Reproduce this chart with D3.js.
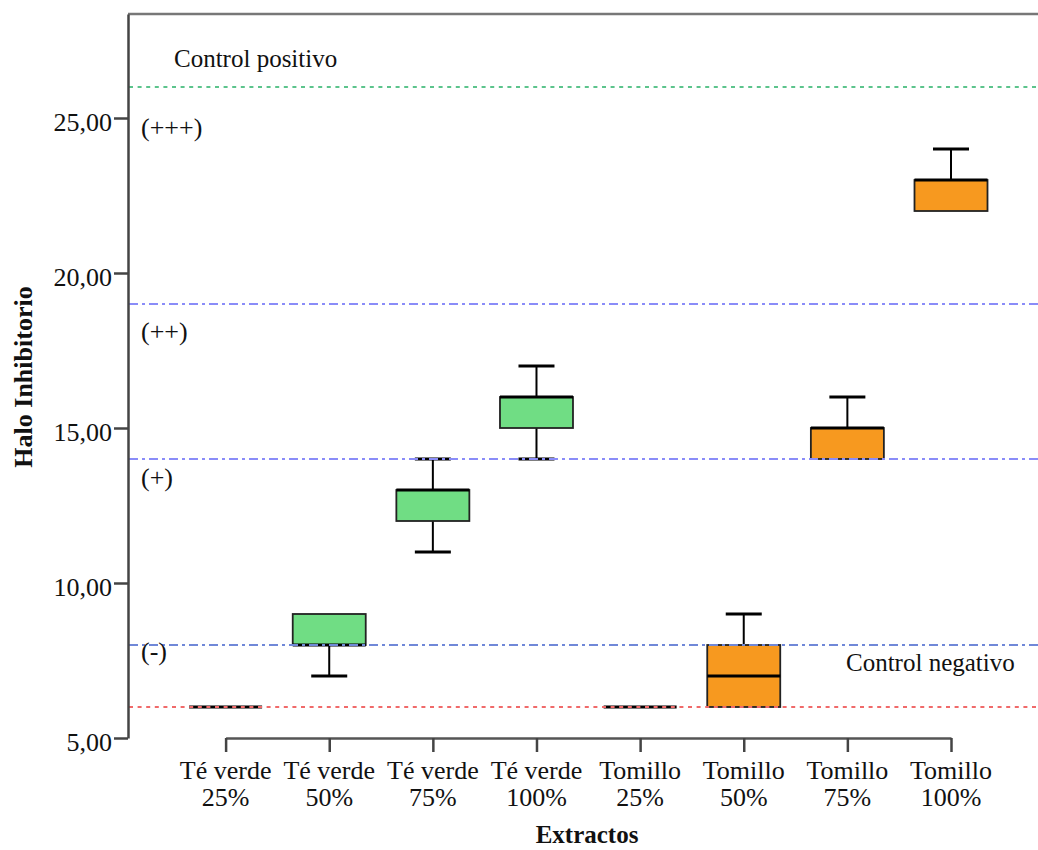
<!DOCTYPE html>
<html>
<head>
<meta charset="utf-8">
<script src="https://cdn.jsdelivr.net/npm/d3@7"></script>
<style>
  body { margin: 0; background: #fff; }
  text { font-family: "Liberation Serif", "Times New Roman", serif; fill: #111; }
</style>
</head>
<body>
<div id="chart-area"></div>
<script>
// data
var groups = ['Té verde|25%', 'Té verde|50%', 'Té verde|75%', 'Té verde|100%',
              'Tomillo|25%', 'Tomillo|50%', 'Tomillo|75%', 'Tomillo|100%']
var extract = ['te', 'te', 'te', 'te', 'tom', 'tom', 'tom', 'tom']
var mins    = [6, 7, 11, 14, 6, 6, 14, 22]
var q1s     = [6, 8, 12, 15, 6, 6, 14, 22]
var medians = [6, 8, 13, 16, 6, 7, 15, 23]
var q3s     = [6, 9, 13, 16, 6, 8, 15, 23]
var maxs    = [6, 9, 14, 17, 6, 9, 16, 24]
var yTicks  = [5, 10, 15, 20, 25]

var refLevels = [26, 19, 14, 8, 6]
var refKinds  = ['pos', 'cut', 'cut', 'cut8', 'neg']
var bandNames = ['(+++)', '(++)', '(+)', '(-)']
var bandAt    = [24.42, 17.84, 13.13, 7.52]

var colors = { te: '#70dd84', tom: '#f7991f' }

var W = 1038, H = 850
var margin = { top: 14, left: 128, bottom: 112, right: 0 }
var width = W - margin.left - margin.right
var height = H - margin.top - margin.bottom

var svg = d3.select('#chart-area').append('svg')
    .attr('width', W).attr('height', H)
var g = svg.append('g').attr('transform', `translate(${margin.left}, ${margin.top})`)

var x = d3.scalePoint().domain(groups).range([97.6, 823])
var y = d3.scaleLinear().domain([5, 28.355]).range([height, 0])

var boxW = 73, capW = 36

// frame
g.append('line').attr('x1', 0).attr('x2', width).attr('y1', 0).attr('y2', 0)
    .attr('stroke', '#777').attr('stroke-width', 2.5)

// boxes
var data = groups.map((d, i) => ({ key: d, kind: extract[i], min: mins[i], q1: q1s[i], med: medians[i], q3: q3s[i], max: maxs[i] }))
var box = g.selectAll('.box').data(data).enter().append('g')
    .attr('class', 'box')
    .attr('transform', d => `translate(${x(d.key)}, 0)`)

box.append('line').attr('x1', 0).attr('x2', 0)
    .attr('y1', d => y(d.max)).attr('y2', d => y(d.q3))
    .attr('stroke', '#000').attr('stroke-width', 2)
box.append('line').attr('x1', 0).attr('x2', 0)
    .attr('y1', d => y(d.q1)).attr('y2', d => y(d.min))
    .attr('stroke', '#000').attr('stroke-width', 2)
box.filter(d => d.max > d.q3).append('line').attr('x1', -capW / 2).attr('x2', capW / 2)
    .attr('y1', d => y(d.max)).attr('y2', d => y(d.max))
    .attr('stroke', '#000').attr('stroke-width', 3)
box.filter(d => d.min < d.q1).append('line').attr('x1', -capW / 2).attr('x2', capW / 2)
    .attr('y1', d => y(d.min)).attr('y2', d => y(d.min))
    .attr('stroke', '#000').attr('stroke-width', 3)
box.filter(d => d.q3 > d.q1).append('rect')
    .attr('x', -boxW / 2).attr('width', boxW)
    .attr('y', d => y(d.q3)).attr('height', d => y(d.q1) - y(d.q3))
    .attr('fill', d => colors[d.kind]).attr('stroke', '#222').attr('stroke-width', 1.8)
box.append('line').attr('x1', -boxW / 2).attr('x2', boxW / 2)
    .attr('y1', d => y(d.med)).attr('y2', d => y(d.med))
    .attr('stroke', '#000').attr('stroke-width', 3)

// reference lines
var refStyle = {
  pos:  { c: '#5cc48c', dash: '4,4.6', w: 2 },
  cut:  { c: '#8a8cf8', dash: '9,4,3,4', w: 2 },
  cut8: { c: '#7088d8', dash: '9,4,3,4', w: 2 },
  neg:  { c: '#f06a6a', dash: '4,4.6', w: 2 }
}
g.selectAll('.ref').data(refLevels).enter().append('line')
    .attr('class', 'ref')
    .attr('x1', 1).attr('x2', width)
    .attr('y1', d => y(d)).attr('y2', d => y(d))
    .attr('stroke', (d, i) => refStyle[refKinds[i]].c)
    .attr('stroke-dasharray', (d, i) => refStyle[refKinds[i]].dash)
    .attr('stroke-width', (d, i) => refStyle[refKinds[i]].w)

g.selectAll('.band').data(bandNames).enter().append('text')
    .attr('x', 13).attr('y', (d, i) => y(bandAt[i]))
    .attr('font-size', '26px')
    .text(d => d)

g.append('text').attr('x', 46).attr('y', y(26.65)).attr('font-size', '25px')
    .text('Control positivo')
g.append('text').attr('x', 718).attr('y', y(7.16)).attr('font-size', '25px')
    .text('Control negativo')

// axes
var yAxisG = g.append('g').call(d3.axisLeft(y).tickValues(yTicks).tickSize(14).tickSizeOuter(0)
    .tickFormat(d => d3.format('.2f')(d).replace('.', ',')))
yAxisG.select('.domain').attr('stroke', '#444').attr('stroke-width', 2.5)
yAxisG.selectAll('.tick line').attr('stroke', '#444').attr('stroke-width', 2.5)
yAxisG.selectAll('.tick text').attr('font-size', '26px').attr('font-family', '"Liberation Serif", serif')
    .attr('fill', '#222').attr('x', -16).attr('dy', '12px')

var xAxisG = g.append('g').attr('transform', `translate(0, ${height})`)
    .call(d3.axisBottom(x).tickSize(14).tickSizeOuter(0).tickFormat(''))
xAxisG.select('.domain').attr('stroke', '#555').attr('stroke-width', 2.5)
xAxisG.selectAll('.tick line').attr('stroke', '#444').attr('stroke-width', 2.5)

var xl = g.selectAll('.xlab').data(groups).enter().append('text')
    .attr('text-anchor', 'middle').attr('font-size', '26px')
    .attr('transform', d => `translate(${x(d)}, ${height + 41})`)
xl.append('tspan').attr('x', 0).attr('y', 0).text(d => d.split('|')[0])
xl.append('tspan').attr('x', 0).attr('y', 27).text(d => d.split('|')[1])

svg.append('text').attr('x', 587).attr('y', 843).attr('text-anchor', 'middle')
    .attr('font-size', '25px').attr('font-weight', 'bold').text('Extractos')
svg.append('text').attr('transform', 'translate(32, 377) rotate(-90)')
    .attr('text-anchor', 'middle').attr('font-size', '26px').attr('font-weight', 'bold')
    .text('Halo Inhibitorio')
</script>
</body>
</html>
